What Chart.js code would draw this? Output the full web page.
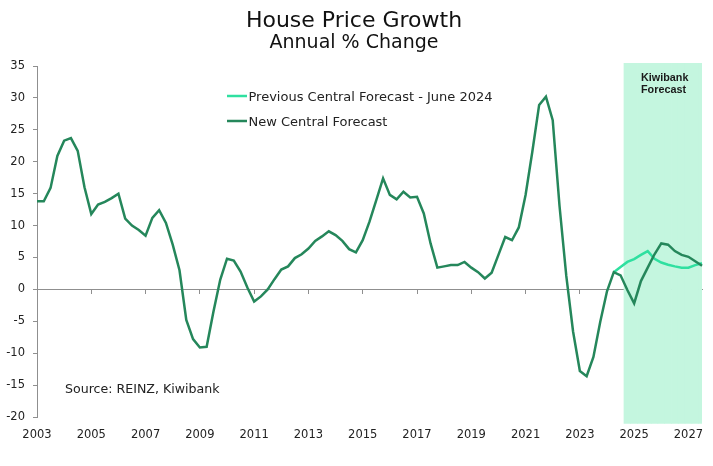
<!DOCTYPE html>
<html>
<head>
<meta charset="utf-8">
<script src="https://cdn.jsdelivr.net/npm/chart.js@4.4.1/dist/chart.umd.min.js"></script>
<style>
  html, body { margin: 0; padding: 0; background: #ffffff; }
  #wrap { position: relative; width: 713px; height: 466px; }
</style>
</head>
<body>
<div id="wrap"><canvas id="c"></canvas></div>
<script>
// ---------- DATA ----------
const firstYear = 2003;
const lastYear = 2027;
const quarterCount = 99; // 2003 Q1 .. 2027 Q3
const quarterLabels = [];
for (let y = firstYear; y <= lastYear; y++) {
  for (let q = 1; q <= 4; q++) quarterLabels.push(y + ' Q' + q);
}
quarterLabels.length = quarterCount;

const tickYears = ['2003','2005','2007','2009','2011','2013','2015','2017','2019','2021','2023','2025','2027'];

// New Central Forecast (history + forecast), annual % change, quarterly
const newCentral = [
  13.8, 13.8, 15.9, 20.9, 23.3, 23.7, 21.7, 16.0,   // 2003-2004
  11.8, 13.3, 13.7, 14.3, 15.0, 11.1, 10.0, 9.3,    // 2005-2006
  8.4, 11.2, 12.4, 10.4, 7.0, 3.0, -4.8, -7.8,      // 2007-2008
  -9.1, -9.0, -3.5, 1.5, 4.8, 4.5, 2.8, 0.3,        // 2009-2010
  -1.9, -1.1, 0.0, 1.6, 3.1, 3.6, 4.9, 5.5,         // 2011-2012
  6.4, 7.6, 8.3, 9.1, 8.5, 7.6, 6.3, 5.8,           // 2013-2014
  7.7, 10.6, 14.0, 17.4, 14.8, 14.1, 15.3, 14.4,    // 2015-2016
  14.5, 11.9, 7.2, 3.4, 3.6, 3.8, 3.8, 4.3,         // 2017-2018
  3.4, 2.7, 1.7, 2.6, 5.4, 8.2, 7.7, 9.7,           // 2019-2020
  14.8, 21.6, 28.9, 30.2, 26.5, 13.1, 2.1, -6.6,    // 2021-2022
  -12.8, -13.6, -10.6, -5.1, -0.3, 2.7, 2.2, -0.1,  // 2023-2024
  -2.2, 1.3, 3.4, 5.5, 7.2, 7.0, 6.0, 5.4,          // 2025-2026
  5.1, 4.4, 3.7                                      // 2027 Q1-Q3
];

// Previous Central Forecast - June 2024 (starts 2024 Q2)
const prevStartLabel = '2024 Q2';
const prevValues = [2.7, 3.5, 4.3, 4.75, 5.4, 6.0, 4.8, 4.2, 3.85, 3.6, 3.4, 3.4, 3.8, 4.1];

// Kiwibank forecast shading period
const forecastStartLabel = '2024 Q4';
const shadeRange = [-21, 35.4];

// ---------- BUILD SERIES ----------
const prevStart = quarterLabels.indexOf(prevStartLabel);
const prevCentral = quarterLabels.map((l, i) => (i >= prevStart ? prevValues[i - prevStart] : null));
const forecastStart = quarterLabels.indexOf(forecastStartLabel);
const shade = quarterLabels.map((l, i) => (i >= forecastStart ? shadeRange : null));

// ---------- STYLE ----------
const DARK = '#25875b';
const LIGHT = '#2fe0a0';
const SHADE = '#c4f6df';
const AXIS = '#8f8f8f';
const TXT = '#222222';
const FONT = "'DejaVu Sans', 'Liberation Sans', sans-serif";

function isYearTick(index) {
  const l = quarterLabels[index];
  return !!l && l.endsWith('Q1') && tickYears.includes(l.slice(0, 4));
}

const textPlugin = {
  id: 'texts',
  afterDraw(chart) {
    const c = chart.ctx;
    c.save();
    c.fillStyle = '#111111';
    c.textAlign = 'center';
    c.textBaseline = 'alphabetic';
    c.font = '22px ' + FONT;
    c.fillText('House Price Growth', 354, 27);
    c.font = '19px ' + FONT;
    c.fillText('Annual % Change', 354, 48);

    // legend
    const items = [
      { label: chart.data.datasets[1].label, color: LIGHT, y: 96 },
      { label: chart.data.datasets[0].label, color: DARK, y: 121 }
    ];
    c.textAlign = 'left';
    c.font = '13px ' + FONT;
    items.forEach(it => {
      c.strokeStyle = it.color;
      c.lineWidth = 2.5;
      c.beginPath();
      c.moveTo(227, it.y);
      c.lineTo(247, it.y);
      c.stroke();
      c.fillStyle = TXT;
      c.fillText(it.label, 248.5, it.y + 4.6);
    });

    // source
    c.font = '12.6px ' + FONT;
    c.fillStyle = TXT;
    c.fillText('Source: REINZ, Kiwibank', 65, 393);

    // Kiwibank forecast label
    c.font = "bold 10.8px 'Liberation Sans', sans-serif";
    c.fillStyle = '#1a1a1a';
    c.fillText('Kiwibank', 641, 80.7);
    c.fillText('Forecast', 641, 93.3);
    c.restore();
  }
};

new Chart(document.getElementById('c'), {
  type: 'line',
  data: {
    labels: quarterLabels,
    datasets: [
      {
        type: 'line',
        label: 'New Central Forecast',
        data: newCentral,
        borderColor: DARK,
        backgroundColor: DARK,
        borderWidth: 2.5,
        pointRadius: 0,
        tension: 0,
        order: 1
      },
      {
        type: 'line',
        label: 'Previous Central Forecast - June 2024',
        data: prevCentral,
        borderColor: LIGHT,
        backgroundColor: LIGHT,
        borderWidth: 2.5,
        pointRadius: 0,
        tension: 0,
        spanGaps: false,
        order: 2
      },
      {
        type: 'bar',
        label: 'Kiwibank Forecast',
        data: shade,
        backgroundColor: SHADE,
        borderWidth: 0,
        barPercentage: 1,
        categoryPercentage: 1,
        grouped: false,
        clip: { left: 0, right: 0, top: 4, bottom: 7 },
        order: 3
      }
    ]
  },
  options: {
    responsive: true,
    maintainAspectRatio: false,
    animation: false,
    events: [],
    layout: { padding: { top: 66, right: 11, bottom: 0, left: 0 } },
    plugins: {
      legend: { display: false },
      tooltip: { enabled: false },
      title: { display: false }
    },
    scales: {
      x: {
        type: 'category',
        offset: false,
        grid: { display: false, drawTicks: false },
        border: { display: false },
        ticks: {
          autoSkip: false,
          maxRotation: 0,
          minRotation: 0,
          padding: 11,
          color: TXT,
          font: { family: FONT, size: 11.5 },
          callback: (v, i) => (isYearTick(v) ? quarterLabels[v].slice(0, 4) : '')
        },
        afterFit: s => { s.height = 49; }
      },
      x2: {
        type: 'category',
        labels: quarterLabels,
        position: { y: 0 },
        offset: false,
        ticks: { display: false },
        grid: {
          drawOnChartArea: false,
          drawTicks: true,
          tickLength: 4,
          lineWidth: 1,
          color: ctx => (ctx.tick && ctx.tick.value > 0 && isYearTick(ctx.tick.value) ? AXIS : 'rgba(0,0,0,0)')
        },
        border: { display: true, color: AXIS, width: 1 }
      },
      y: {
        min: -20,
        max: 35,
        ticks: {
          stepSize: 5,
          padding: 8,
          color: TXT,
          font: { family: FONT, size: 11.5 }
        },
        grid: { drawOnChartArea: false, drawTicks: true, tickLength: 4, color: AXIS },
        border: { display: true, color: AXIS, width: 1 },
        afterFit: s => { s.width = 37; }
      }
    }
  },
  plugins: [textPlugin]
});
</script>
</body>
</html>
